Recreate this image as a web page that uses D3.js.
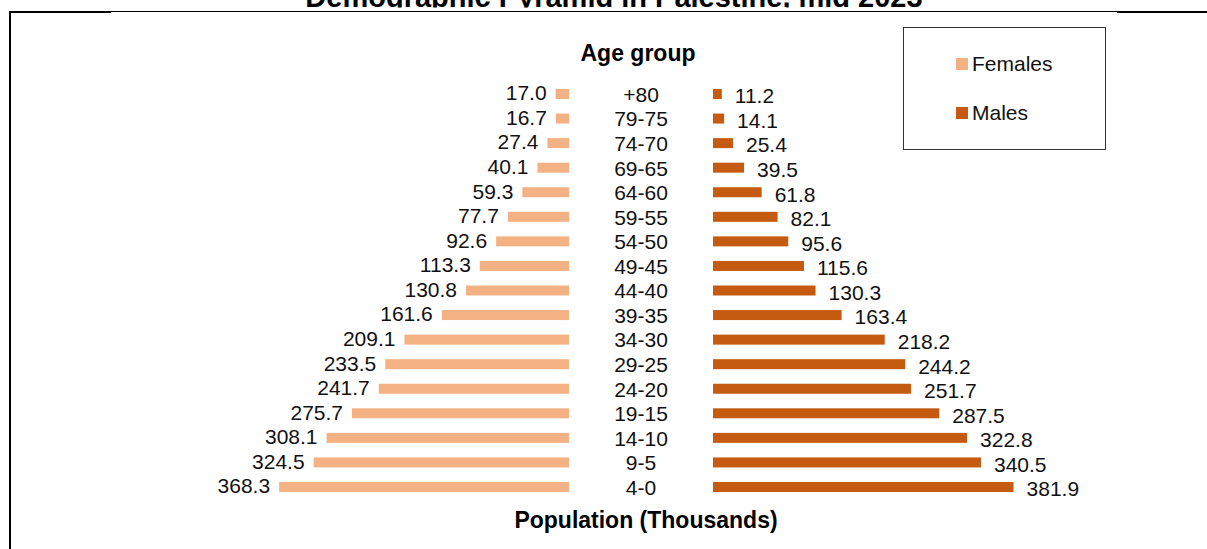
<!DOCTYPE html>
<html>
<head>
<meta charset="utf-8">
<script src="https://cdn.jsdelivr.net/npm/d3@7"></script>
<style>
  html, body { margin: 0; padding: 0; background: #fff; }
  svg { display: block; font-family: "Liberation Sans", Arial, sans-serif; }
</style>
</head>
<body>
<svg id="chart" width="1207" height="549"></svg>
<script>
// Age groups, oldest at the top
const ageGroups = ["+80", "79-75", "74-70", "69-65", "64-60", "59-55", "54-50", "49-45",
  "44-40", "39-35", "34-30", "29-25", "24-20", "19-15", "14-10", "9-5", "4-0"];
// Population in thousands
const females = [17.0, 16.7, 27.4, 40.1, 59.3, 77.7, 92.6, 113.3, 130.8, 161.6, 209.1,
  233.5, 241.7, 275.7, 308.1, 324.5, 368.3];
const males = [11.2, 14.1, 25.4, 39.5, 61.8, 82.1, 95.6, 115.6, 130.3, 163.4, 218.2,
  244.2, 251.7, 287.5, 322.8, 340.5, 381.9];
const seriesNames = ["Females", "Males"];

const title = "Demographic Pyramid in Palestine, mid 2023";
const centerTitle = "Age group";
const axisTitle = "Population (Thousands)";

const colors = { Females: "#F4B183", Males: "#C55A11" };

const svg = d3.select("#chart");

// frame: outer border and plot-area top line
svg.append("line").attr("x1", 9).attr("x2", 111).attr("y1", 12).attr("y2", 12)
  .attr("stroke", "#000").attr("stroke-width", 2);
svg.append("line").attr("x1", 1117).attr("x2", 1207).attr("y1", 12).attr("y2", 12)
  .attr("stroke", "#000").attr("stroke-width", 2);
svg.append("line").attr("x1", 111).attr("x2", 1117).attr("y1", 11.5).attr("y2", 11.5)
  .attr("stroke", "#000").attr("stroke-width", 1);
svg.append("line").attr("x1", 10).attr("x2", 10).attr("y1", 11).attr("y2", 549)
  .attr("stroke", "#000").attr("stroke-width", 2);

// title (runs off the top edge)
svg.append("clipPath").attr("id", "titleClip")
  .append("rect").attr("x", 0).attr("y", -60).attr("width", 1207).attr("height", 67.5);
svg.append("text")
  .attr("clip-path", "url(#titleClip)")
  .attr("x", 614).attr("y", 7)
  .attr("text-anchor", "middle")
  .attr("font-weight", "bold").attr("font-size", 29).attr("fill", "#000")
  .text(title);

// scales
const y = d3.scalePoint().domain(ageGroups).range([94, 487]);
const xF = d3.scaleLinear().domain([0, 400]).range([569, 569 - 314.8]);
const xM = d3.scaleLinear().domain([0, 400]).range([713, 713 + 314.8]);
const barH = 10;

const rows = ageGroups.map((a, i) => ({ age: a, f: females[i], m: males[i] }));

// female bars
svg.append("g").selectAll("rect").data(rows).join("rect")
  .attr("x", d => xF(d.f)).attr("y", d => y(d.age) - barH / 2)
  .attr("width", d => xF(0) - xF(d.f)).attr("height", barH)
  .attr("fill", colors.Females);

// male bars
svg.append("g").selectAll("rect").data(rows).join("rect")
  .attr("x", xM(0)).attr("y", d => y(d.age) - barH / 2)
  .attr("width", d => xM(d.m) - xM(0)).attr("height", barH)
  .attr("fill", colors.Males);

const fs = 21;

// value labels
svg.append("g").selectAll("text").data(rows).join("text")
  .attr("x", d => xF(d.f) - 9).attr("y", d => y(d.age) - 1)
  .attr("dy", "0.35em").attr("text-anchor", "end")
  .attr("font-size", fs).attr("fill", "#111")
  .text(d => d3.format(".1f")(d.f));

svg.append("g").selectAll("text").data(rows).join("text")
  .attr("x", d => xM(d.m) + 13).attr("y", d => y(d.age) + 2)
  .attr("dy", "0.35em").attr("text-anchor", "start")
  .attr("font-size", fs).attr("fill", "#111")
  .text(d => d3.format(".1f")(d.m));

// age group labels in the middle
const yAxis = d3.axisLeft(y).tickSize(0).tickPadding(0);
const gAxis = svg.append("g").attr("transform", "translate(641,0)").call(yAxis);
gAxis.select(".domain").remove();
gAxis.selectAll("text")
  .attr("x", 0).attr("dy", "0.35em")
  .attr("text-anchor", "middle")
  .attr("font-size", fs).attr("fill", "#111")
  .style("font-family", "'Liberation Sans', Arial, sans-serif");

// axis titles
svg.append("text").attr("x", 638).attr("y", 61)
  .attr("text-anchor", "middle").attr("font-weight", "bold")
  .attr("font-size", 23).attr("fill", "#000").text(centerTitle);
svg.append("text").attr("x", 646).attr("y", 528)
  .attr("text-anchor", "middle").attr("font-weight", "bold")
  .attr("font-size", 23).attr("fill", "#000").text(axisTitle);

// legend
const lg = svg.append("g");
lg.append("rect").attr("x", 903.5).attr("y", 27.5).attr("width", 202).attr("height", 122)
  .attr("fill", "#fff").attr("stroke", "#333").attr("stroke-width", 1);
const items = lg.selectAll("g.item").data(seriesNames).join("g")
  .attr("class", "item")
  .attr("transform", (d, i) => `translate(956,${64 + i * 49})`);
items.append("rect").attr("x", 0).attr("y", -6).attr("width", 12).attr("height", 12)
  .attr("fill", d => colors[d]);
items.append("text").attr("x", 16).attr("y", 0).attr("dy", "0.35em")
  .attr("font-size", fs).attr("fill", "#111").text(d => d);
</script>
</body>
</html>
